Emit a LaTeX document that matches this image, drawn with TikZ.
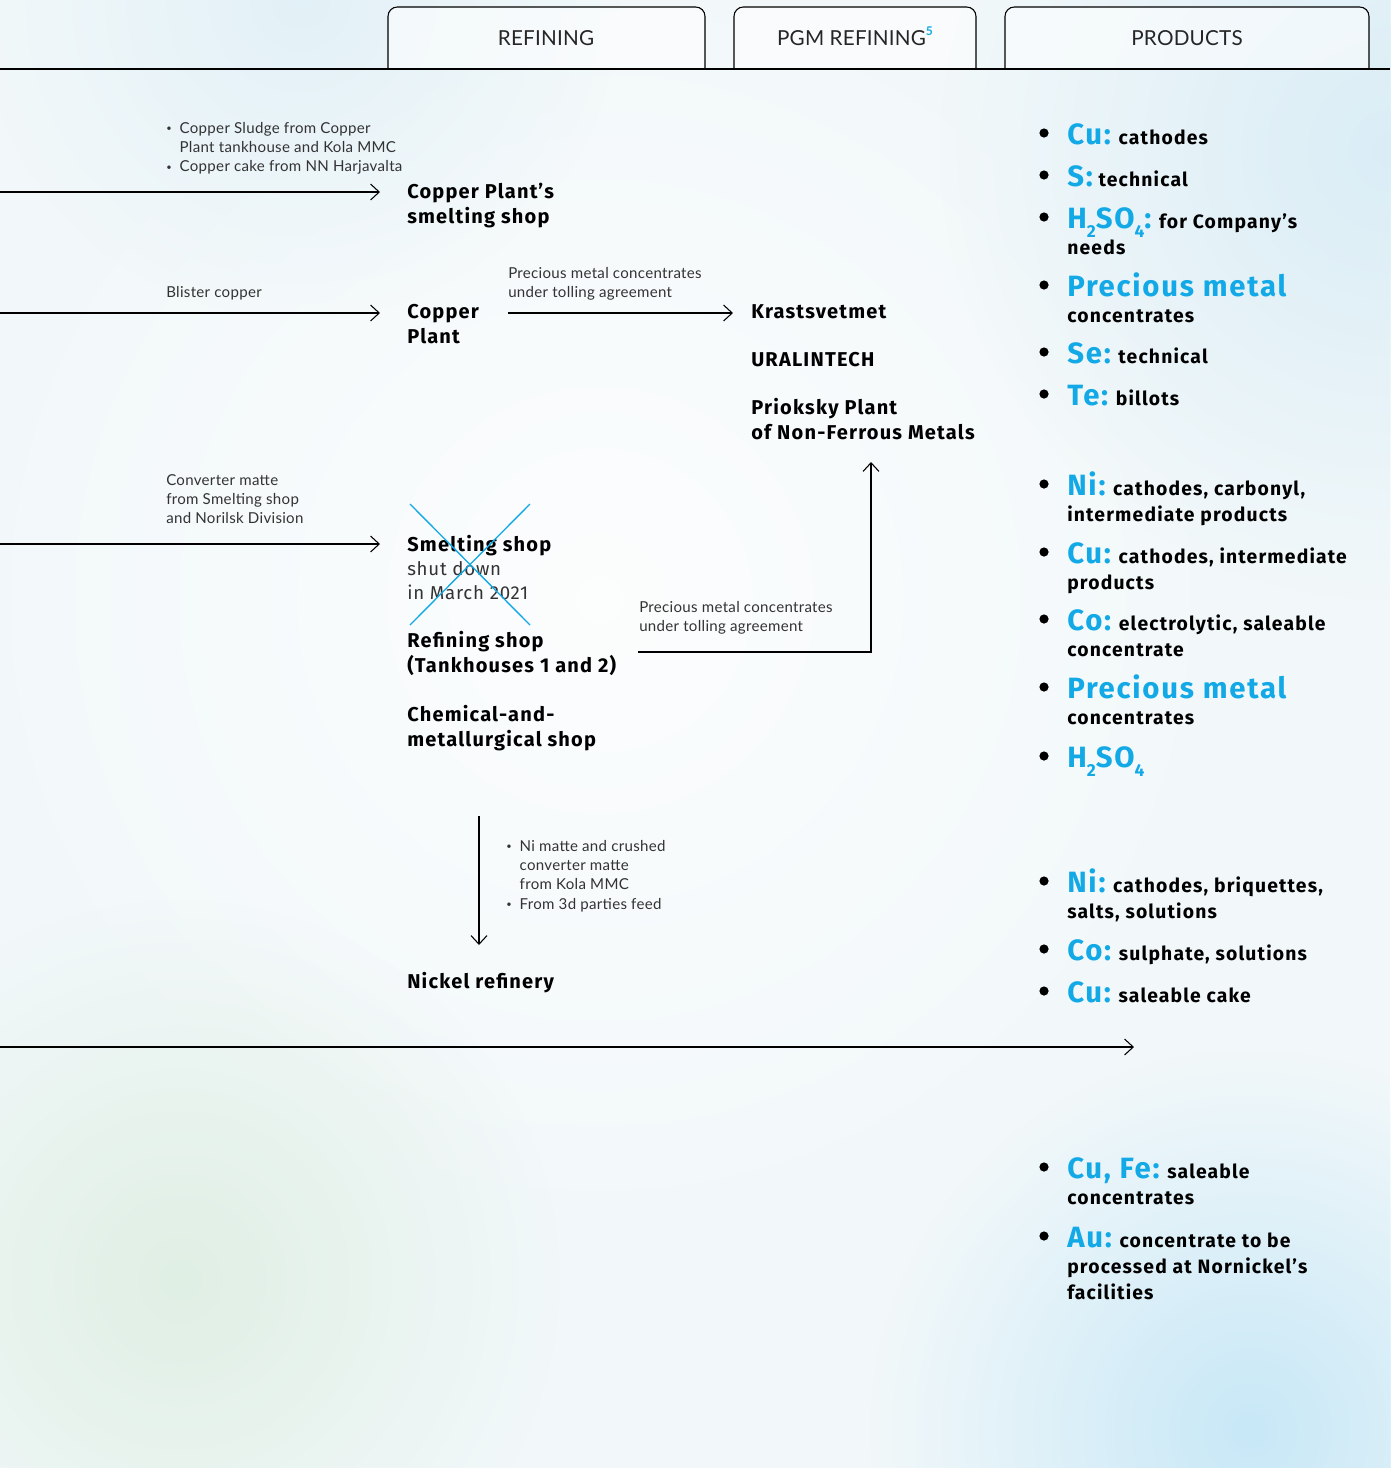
\documentclass[tikz,border=0pt]{standalone}
\usepackage{fontspec}
\setmainfont{Fira Sans}[LetterSpace=4]
\newfontfamily\bfam{Fira Sans}[LetterSpace=6]
\newfontfamily\lt{Lato}[LetterSpace=2]
\newfontfamily\tabf{Lato}[LetterSpace=1]
\usetikzlibrary{arrows.meta,calc,fadings}
\definecolor{pblue}{HTML}{12A9E6}
\definecolor{gtext}{HTML}{333333}
\definecolor{bgbase}{HTML}{F2F8FA}
\newcommand\ml[1]{\begin{tabular}[t]{@{}l@{}}#1\end{tabular}}
\newcommand\bul{\raisebox{1.2pt}{\fontsize{7}{7}\selectfont\textbullet}}
\newcommand\bl[1]{{\color{pblue}\fontsize{22}{22}\selectfont #1}}
\newcommand\sbs[1]{\raisebox{-0.32em}[0pt][0pt]{\fontsize{13}{13}\selectfont #1}}
\newcommand\prodi[3]{\node[prod] (#1) at (1067,#2) {\ml{#3}};
  \fill ($(#1.base west)+(-23,-11)$) circle[radius=4.6];}
\tikzfading[name=softfade, inner color=transparent!0, outer color=transparent!100]
\tikzset{
  arr/.style={draw=black, line width=0.8pt, -{Straight Barb[length=6.5pt,width=12pt,line width=0.8pt]}},
  hd/.style={font=\bfam\fontsize{15}{18.75}\selectfont\bfseries, anchor=base west, inner sep=0pt},
  hdreg/.style={font=\fontsize{14}{18}\selectfont, text=black!80, anchor=base west, inner sep=0pt},
  sm/.style={font=\lt\fontsize{11.3}{14.5}\selectfont, text=gtext, anchor=base west, inner sep=0pt},
  prod/.style={font=\bfam\fontsize{14.5}{19.5}\selectfont\bfseries, anchor=base west, inner sep=0pt},
  tabbox/.style={draw=black, line width=0.8pt, fill=white, fill opacity=0.55, rounded corners=7pt},
  tablabel/.style={font=\tabf\fontsize{15.5}{15.5}\selectfont, text=black!85, inner sep=0pt, anchor=base},
  xline/.style={draw=pblue, line width=1pt}
}
\begin{document}
\begin{tikzpicture}[x=0.75pt,y=-0.75pt]
% background
\useasboundingbox (0,0) rectangle (1390,1468);
\fill[bgbase] (0,0) rectangle (1390,1468);
\fill[color=white, path fading=softfade, opacity=0.8] (600,600) circle (650);
\fill[color={rgb,255:red,218;green,237;blue,246}, path fading=softfade] (1390,150) circle (450);
\fill[color={rgb,255:red,220;green,238;blue,246}, path fading=softfade, opacity=0.7] (300,0) circle (320);
\fill[color={rgb,255:red,222;green,238;blue,226}, path fading=softfade, opacity=0.9] (180,1280) circle (380);
\fill[color={rgb,255:red,200;green,232;blue,247}, path fading=softfade] (1250,1430) circle (380);

% tabs
\draw[tabbox] (388,69) -- (388,7) -- (705,7) -- (705,69);
\draw[tabbox] (734,69) -- (734,7) -- (976,7) -- (976,69);
\draw[tabbox] (1005,69) -- (1005,7) -- (1369,7) -- (1369,69);
\draw[line width=0.9pt] (0,69) -- (1390,69);
\node[tablabel] (t1) at (546,45.5) {REFINING};
\node[tablabel] (t2) at (855,45.5) {PGM REFINING{\color{pblue}\raisebox{0.48em}[0pt][0pt]{\fontsize{9}{9}\selectfont\bfseries 5}}};
\node[tablabel] (t3) at (1187,45.5) {PRODUCTS};

% left labels
\node[sm] (l1) at (166,133) {\begin{tabular}[t]{@{}l@{\hspace{6pt}}l@{}}\bul & Copper Sludge from Copper\\ & Plant tankhouse and Kola MMC\\ \bul & Copper cake from NN Harjavalta\end{tabular}};
\node[sm] (l2) at (166,297) {Blister copper};
\node[sm] (l3) at (166,485) {\ml{Converter matte\\from Smelting shop\\and Norilsk Division}};
\node[sm] (l4) at (508,278) {\ml{Precious metal concentrates\\under tolling agreement}};
\node[sm] (l5) at (639,612) {\ml{Precious metal concentrates\\under tolling agreement}};
\node[sm] (l6) at (506,851) {\begin{tabular}[t]{@{}l@{\hspace{6pt}}l@{}}\bul & Ni matte and crushed\\ & converter matte\\ & from Kola MMC\\ \bul & From 3d parties feed\end{tabular}};

% refining nodes
\node[hd] (cps) at (407,198) {\ml{Copper Plant’s\\smelting shop}};
\node[hd] (cp) at (407,318) {\ml{Copper\\Plant}};
\node[hd] (ss) at (407,551) {Smelting shop};
\node[hdreg] (sd) at (407,575) {\ml{shut down\\in March 2021}};
\node[hd] (rs) at (407,647) {\ml{Refining shop\\(Tankhouses 1 and 2)}};
\node[hd] (cm) at (407,721) {\ml{Chemical-and-\\metallurgical shop}};
\node[hd] (nr) at (407,988) {Nickel refinery};

% PGM refining nodes
\node[hd] (kr) at (751,318) {Krastsvetmet};
\node[hd] (ur) at (751,366) {URALINTECH};
\node[hd] (pr) at (751,414) {\ml{Prioksky Plant\\of Non-Ferrous Metals}};

% cross
\draw[xline] (410,504) -- (530,625);
\draw[xline] (530,504) -- (410,625);

% connectors
\coordinate (s1) at (0,192);
\coordinate (s2) at (0,313);
\coordinate (s4) at (0,544);
\coordinate (s7) at (0,1047);
\coordinate (e7) at (1134,1047);
\coordinate (c3) at (508,313);
\coordinate (c5) at (638,652);
\coordinate (e5) at (871,462);
\coordinate (c6) at (479,816);
\coordinate (e6) at (479,945);
\draw[arr] (s1) -- ($(cps.west |- s1)+(-27,0)$);
\draw[arr] (s2) -- ($(cp.west |- s2)+(-27,0)$);
\draw[arr] (c3) -- ($(kr.west |- c3)+(-18,0)$);
\draw[arr] (s4) -- ($(ss.west |- s4)+(-27,0)$);
\draw[arr] (c5) -| (e5);
\draw[arr] (c6) -- (e6);
\draw[arr] (s7) -- (e7);

% products
\prodi{p1}{144}{\bl{Cu:} cathodes}
\prodi{p2}{186}{\bl{S:} technical}
\prodi{p3}{228}{\bl{H\sbs{2}SO\sbs{4}:} for Company’s\\needs}
\prodi{p4}{296}{\bl{Precious metal}\\concentrates}
\prodi{p5}{363}{\bl{Se:} technical}
\prodi{p6}{405}{\bl{Te:} billots}
\prodi{p7}{495}{\bl{Ni:} cathodes, carbonyl,\\intermediate products}
\prodi{p8}{563}{\bl{Cu:} cathodes, intermediate\\products}
\prodi{p9}{630}{\bl{Co:} electrolytic, saleable\\concentrate}
\prodi{p10}{698}{\bl{Precious metal}\\concentrates}
\prodi{p11}{767}{\bl{H\sbs{2}SO\sbs{4}}}
\prodi{p12}{892}{\bl{Ni:} cathodes, briquettes,\\salts, solutions}
\prodi{p13}{960}{\bl{Co:} sulphate, solutions}
\prodi{p14}{1002}{\bl{Cu:} saleable cake}
\prodi{p15}{1178}{\bl{Cu, Fe:} saleable\\concentrates}
\prodi{p16}{1247}{\bl{Au:} concentrate to be\\processed at Nornickel’s\\facilities}
\end{tikzpicture}
\end{document}
